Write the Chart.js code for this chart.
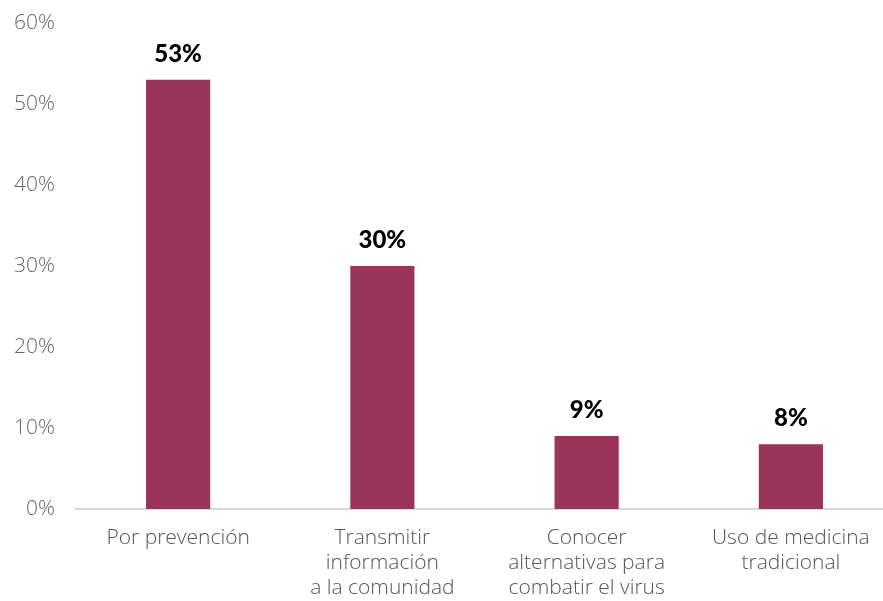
<!DOCTYPE html>
<html lang="es">
<head>
<meta charset="utf-8">
<title>Motivos</title>
<script src="https://cdn.jsdelivr.net/npm/chart.js@4/dist/chart.umd.min.js"></script>
<style>
    html, body { margin: 0; padding: 0; background: #ffffff; overflow: hidden; }
    #wrap { position: absolute; left: 0; top: 0; width: 893px; height: 601px; }
</style>
</head>
<body>
<div id="wrap"><canvas id="motivos" width="893" height="601"></canvas></div>
<script>
// categorías y porcentajes
const categorias = [
    ['Por prevención'],
    ['Transmitir', 'información', 'a la comunidad'],
    ['Conocer', 'alternativas para', 'combatir el virus'],
    ['Uso de medicina', 'tradicional']
];
const porcentajes = [53, 30, 9, 8];
const ticksY = [0, 10, 20, 30, 40, 50, 60];

const COLOR_BARRA = '#9b3459';
const FUENTE = "'Open Sans', sans-serif";

// etiquetas de valor encima de cada barra
const etiquetasValor = {
    id: 'etiquetasValor',
    afterDatasetsDraw(chart) {
        const { ctx } = chart;
        const meta = chart.getDatasetMeta(0);
        ctx.save();
        ctx.font = '900 24px Lato, sans-serif';
        ctx.fillStyle = '#000000';
        ctx.textAlign = 'center';
        ctx.textBaseline = 'alphabetic';
        meta.data.forEach((bar, i) => {
            ctx.fillText(porcentajes[i] + '%', bar.x, bar.y - 18);
        });
        ctx.restore();
    }
};

const ctx = document.getElementById('motivos').getContext('2d');
new Chart(ctx, {
    type: 'bar',
    data: {
        labels: categorias,
        datasets: [{
            data: porcentajes,
            backgroundColor: COLOR_BARRA,
            borderWidth: 0,
            barPercentage: 0.314,
            categoryPercentage: 1
        }]
    },
    options: {
        responsive: false,
        animation: false,
        layout: { padding: 0 },
        plugins: {
            legend: { display: false },
            tooltip: { enabled: false }
        },
        scales: {
            x: {
                afterFit: (scale) => { scale.height = 92; },
                grid: { display: false, drawTicks: false },
                border: { display: true, color: '#d9d9d9', width: 2 },
                ticks: {
                    color: '#555555',
                    font: { family: FUENTE, size: 21, weight: 300, lineHeight: 1.19 },
                    padding: 17,
                    maxRotation: 0,
                    autoSkip: false
                }
            },
            y: {
                min: 0,
                max: 60,
                afterFit: (scale) => {
                    scale.width = 76;
                    scale.paddingTop = 23;
                },
                afterBuildTicks: (scale) => {
                    scale.ticks = ticksY.map(v => ({ value: v }));
                },
                grid: { display: false, drawTicks: false },
                border: { display: false },
                ticks: {
                    color: '#666666',
                    font: { family: FUENTE, size: 21, weight: 300 },
                    padding: 21,
                    callback: (v) => v + '%'
                }
            }
        }
    },
    plugins: [etiquetasValor]
});
</script>
</body>
</html>
